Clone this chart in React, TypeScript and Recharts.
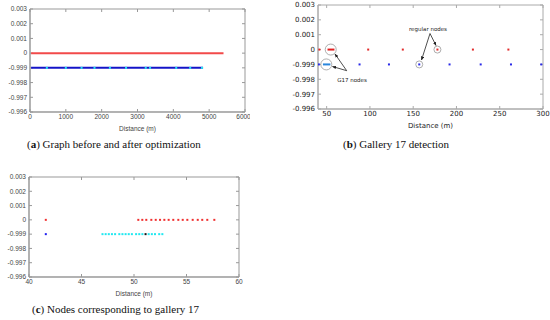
import React from "react";
import {
  ScatterChart,
  Scatter,
  XAxis,
  YAxis,
  ReferenceDot,
  ReferenceArea,
  ReferenceLine,
} from "recharts";

// y tick positions and the (odd) labels the original axis shows for them
const yTicks = [0.003, 0.002, 0.001, 0, -0.001, -0.002, -0.003, -0.004];
const yTickLabels = ["0.003", "0.002", "0.001", "0", "-0.999", "-0.998", "-0.997", "-0.996"];
const yDomain: [number, number] = [-0.004, 0.003];
const Y_TOP = 0;
const Y_BOTTOM = -0.001;

// (a) graph before and after optimization
const xTicksA = [0, 1000, 2000, 3000, 4000, 5000, 6000];
const redLineA = [30, 5400];
const blueLineA = [30, 4830];
const cyanA = [470, 1000, 1440, 1800, 2230, 2680, 3230, 3350, 4080, 4470, 4800];

// (b) gallery 17 detection
const xTicksB = [50, 100, 150, 200, 250, 300];
const redDotsB = [41.6, 98, 138, 178, 219, 260];
const redG17B = [51, 59];
const blueDotsB = [41, 88, 122, 157, 192, 228, 263, 298];
const blueG17B = [45.7, 54.3];

// (c) nodes corresponding to gallery 17
const xTicksC = [40, 45, 50, 55, 60];
const redC = [41.6, 50.41, 50.79, 51.17, 51.65, 52.07, 52.48, 52.89, 53.3, 53.74, 54.22, 54.64, 55.08, 55.59, 56.07, 56.5, 56.98, 57.65];
const blueC = [41.6];
const cyanC = [47.0, 47.3, 47.6, 47.9, 48.2, 48.6, 48.9, 49.2, 49.5, 49.8, 50.2, 50.5, 50.8, 51.4, 51.7, 52.0, 52.4, 52.7];
const blackC = [51.1];

const pts = (xs: number[], y: number) => xs.map((x) => ({ x, y }));

const dot = (color: string, size = 2) => (props: any) => (
  <rect x={props.cx - size / 2} y={props.cy - size / 2} width={size} height={size} fill={color} />
);
const noDot = () => <g />;

interface PanelProps {
  width: number;
  height: number;
  left: number;
  top: number;
  plotLeft: number;
  plotTop: number;
  plotRight: number;
  xDomain: [number, number];
  xTicks: number[];
  font: { family: string; size: number; color: string; weight?: number };
  frame: string;
  children: React.ReactNode;
}

function Panel({ width, height, left, top, plotLeft, plotTop, plotRight, xDomain, xTicks, font, frame, children }: PanelProps) {
  const tickStyle = { fontFamily: font.family, fontSize: font.size, fill: font.color, fontWeight: font.weight ?? 400 };
  // little inward tick marks on the top and right edges
  const xSpan = xDomain[1] - xDomain[0];
  const ySpan = yDomain[1] - yDomain[0];
  const plotW = plotRight - plotLeft;
  const plotH = height - 22 - plotTop;
  const dy = (3 / plotH) * ySpan;
  const dx = (3 / plotW) * xSpan;
  return (
    <div style={{ position: "absolute", left, top }}>
      <ScatterChart width={width} height={height} margin={{ top: plotTop, right: width - plotRight, bottom: 0, left: 0 }}>
        <XAxis
          dataKey="x"
          type="number"
          domain={xDomain}
          ticks={xTicks}
          allowDataOverflow
          height={22}
          stroke={frame}
          tickSize={-3}
          tickMargin={5}
          tick={tickStyle}
          label={{ value: "Distance (m)", position: "insideBottom", offset: 3, style: { ...tickStyle, fontWeight: 400 } }}
        />
        <YAxis
          dataKey="y"
          type="number"
          domain={yDomain}
          ticks={yTicks}
          allowDataOverflow
          width={plotLeft}
          stroke={frame}
          tickSize={-3}
          tickMargin={6}
          tick={tickStyle}
          tickFormatter={(v: number) => yTickLabels[yTicks.findIndex((t) => Math.abs(t - v) < 1e-9)] ?? ""}
        />
        <ReferenceArea x1={xDomain[0]} x2={xDomain[1]} y1={yDomain[0]} y2={yDomain[1]} fill="none" stroke={frame} strokeWidth={1} />
        {xTicks.map((t) => (
          <ReferenceLine key={`tx${t}`} segment={[{ x: t, y: yDomain[1] }, { x: t, y: yDomain[1] - dy }]} stroke={frame} />
        ))}
        {yTicks.map((t) => (
          <ReferenceLine key={`ty${t}`} segment={[{ x: xDomain[1], y: t }, { x: xDomain[1] - dx, y: t }]} stroke={frame} />
        ))}
        {children}
      </ScatterChart>
    </div>
  );
}

const captionStyle: React.CSSProperties = {
  position: "absolute",
  fontFamily: "'Liberation Serif', serif",
  fontSize: 11,
  color: "#111",
  whiteSpace: "nowrap",
};

export default function App() {
  const fontAC = { family: "'Liberation Sans', Arial, sans-serif", size: 6.5, color: "#444" };
  const fontB = { family: "'DejaVu Sans', sans-serif", size: 7, color: "#222" };
  return (
    <div style={{ position: "absolute", left: 0, top: 0, width: 550, height: 320, background: "#fff", overflow: "hidden" }}>
      {/* (a) */}
      <Panel width={250} height={134} left={0} top={0} plotLeft={30} plotTop={9} plotRight={245} xDomain={[0, 6000]} xTicks={xTicksA} font={fontAC} frame="#999">
        <Scatter data={pts(redLineA, Y_TOP)} shape={noDot} line={{ stroke: "#f24a4a", strokeWidth: 2 }} isAnimationActive={false} />
        <Scatter data={pts(blueLineA, Y_BOTTOM)} shape={noDot} line={{ stroke: "#1414c8", strokeWidth: 2 }} isAnimationActive={false} />
        <Scatter data={pts(cyanA, Y_BOTTOM)} shape={dot("#22e5f0", 2)} isAnimationActive={false} />
      </Panel>

      {/* (b) */}
      <Panel width={275} height={131} left={275} top={0} plotLeft={43} plotTop={5} plotRight={268} xDomain={[40, 300]} xTicks={xTicksB} font={fontB} frame="#aaa">
        <Scatter data={pts(redDotsB, Y_TOP)} shape={dot("#e22a2a", 2)} isAnimationActive={false} />
        <Scatter data={pts(blueDotsB, Y_BOTTOM)} shape={dot("#2a2ae8", 2)} isAnimationActive={false} />
        <Scatter data={pts(redG17B, Y_TOP)} shape={noDot} line={{ stroke: "#e02020", strokeWidth: 2 }} isAnimationActive={false} />
        <Scatter data={pts(blueG17B, Y_BOTTOM)} shape={noDot} line={{ stroke: "#2a86dc", strokeWidth: 2 }} isAnimationActive={false} />
        <ReferenceDot x={54.7} y={Y_TOP} r={5.5} fill="none" stroke="#999" strokeWidth={0.8} />
        <ReferenceDot x={49.6} y={Y_BOTTOM} r={5.5} fill="none" stroke="#999" strokeWidth={0.8} />
        <ReferenceDot x={178} y={Y_TOP} r={3.5} fill="none" stroke="#999" strokeWidth={0.8} />
        <ReferenceDot x={157} y={Y_BOTTOM} r={3.5} fill="none" stroke="#999" strokeWidth={0.8} />
      </Panel>
      {/* annotations for (b) */}
      <svg width={550} height={320} style={{ position: "absolute", left: 0, top: 0, pointerEvents: "none" }}>
        <defs>
          <marker id="arr" viewBox="0 0 10 10" refX="9" refY="5" markerWidth="5" markerHeight="5" orient="auto-start-reverse">
            <path d="M0,1 L10,5 L0,9 z" fill="#222" />
          </marker>
        </defs>
        <line x1={346.7} y1={70.7} x2={335} y2={54} stroke="#222" strokeWidth={0.8} markerEnd="url(#arr)" />
        <line x1={346.7} y1={70.7} x2={332.5} y2={66.5} stroke="#222" strokeWidth={0.8} markerEnd="url(#arr)" />
        <line x1={430} y1={33.5} x2={421.5} y2={60} stroke="#222" strokeWidth={0.8} markerEnd="url(#arr)" />
        <line x1={430} y1={33.5} x2={436} y2={45.5} stroke="#222" strokeWidth={0.8} markerEnd="url(#arr)" />
        <text x={352} y={82} textAnchor="middle" fontFamily="'DejaVu Sans', sans-serif" fontSize={5.5} fill="#222">G17 nodes</text>
        <text x={428} y={31} textAnchor="middle" fontFamily="'DejaVu Sans', sans-serif" fontSize={5.5} fill="#222">regular nodes</text>
      </svg>

      {/* (c) */}
      <Panel width={245} height={299} left={0} top={0} plotLeft={29} plotTop={177} plotRight={239} xDomain={[40, 60]} xTicks={xTicksC} font={fontAC} frame="#999">
        <Scatter data={pts(redC, Y_TOP)} shape={dot("#f03030", 2)} isAnimationActive={false} />
        <Scatter data={pts(blueC, Y_BOTTOM)} shape={dot("#2020f0", 2)} isAnimationActive={false} />
        <Scatter data={pts(cyanC, Y_BOTTOM)} shape={dot("#22e8f0", 2)} isAnimationActive={false} />
        <Scatter data={pts(blackC, Y_BOTTOM)} shape={dot("#111", 2)} isAnimationActive={false} />
      </Panel>

      <div style={{ ...captionStyle, left: 27, top: 138 }}>(<b>a</b>) Graph before and after optimization</div>
      <div style={{ ...captionStyle, left: 343, top: 138 }}>(<b>b</b>) Gallery 17 detection</div>
      <div style={{ ...captionStyle, left: 32, top: 303 }}>(<b>c</b>) Nodes corresponding to gallery 17</div>
    </div>
  );
}
